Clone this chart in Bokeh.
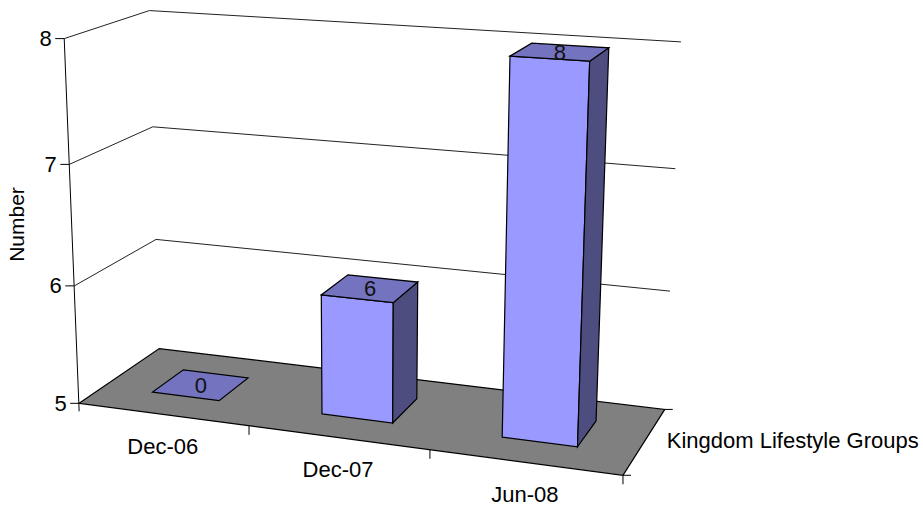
import numpy as np
from bokeh.plotting import figure
from bokeh.core.properties import value
from bokeh.embed import file_html
from bokeh.resources import INLINE

categories = ["Dec-06", "Dec-07", "Jun-08"]
values = [0, 6, 8]
value_ticks = [5, 6, 7, 8]
series_name = "Kingdom Lifestyle Groups"
value_title = "Number"

# Camera calibration of the 3D box: (category pos, depth, value) -> page pixel
box_pts = [(0,0,5),(0,1,5),(3,1,5),(3,0,5),(0,0,8),(0,1,8),(3,1,8),
           (0,0,7),(0,1,7),(3,1,7),(0,0,6),(0,1,6),(3,1,6),(1,0,5),(2,0,5)]
box_px = [(79,403),(159,348),(664,408.5),(623,474.5),(64,38),(149,10),(680,41),
          (69,164),(152,126),(675,169),(73.5,285.5),(155.5,239),(670,291),(248,425.5),(429,449)]

A = []
b = []
for (u, d, v), (x, y) in zip(box_pts, box_px):
    A.append([u, d, v, 1, 0, 0, 0, 0, -x*u, -x*d, -x*v]); b.append(x)
    A.append([0, 0, 0, 0, u, d, v, 1, -y*u, -y*d, -y*v]); b.append(y)
m = np.linalg.lstsq(np.array(A, float), np.array(b, float), rcond=None)[0]
M = np.append(m, 1.0).reshape(3, 4)

def proj(u, d, v):
    r = M @ np.array([u, d, v, 1.0])
    return r[0] / r[2], r[1] / r[2]

W, H = 923, 508
p = figure(width=W, height=H, x_range=(0, W), y_range=(H, 0),
           x_axis_type=None, y_axis_type=None, toolbar_location=None,
           output_backend="svg", min_border=0, outline_line_color=None,
           background_fill_color="white", border_fill_color="white")
p.grid.visible = False

vmin, vmax = value_ticks[0], value_ticks[-1]
nu = len(categories)
FONT = value("Liberation Sans")
FS = "22px"

def face(pts, fill, line="black"):
    xy = [proj(*q) for q in pts]
    p.patch([a for a, _ in xy], [c for _, c in xy], fill_color=fill,
            line_color=line, line_width=1.2, line_join="miter")

def seg(a, b, color="black", w=1.0):
    p.line([a[0], b[0]], [a[1], b[1]], line_color=color, line_width=w)

# gridlines on side and back wall
for t in value_ticks[1:]:
    xy = [proj(0, 0, t), proj(0, 1, t), proj(nu, 1, t)]
    p.line([q[0] for q in xy], [q[1] for q in xy], line_color="#222222", line_width=1.0)

# floor
face([(0,0,vmin),(0,1,vmin),(nu,1,vmin),(nu,0,vmin)], "#808080")

# value axis line and ticks
a0 = proj(0, 0, vmax); a1 = proj(0, 0, vmin)
seg(a0, (a1[0], a1[1] + 8))
for t in value_ticks:
    q = proj(0, 0, t)
    seg((q[0] - 9, q[1]), q)
    p.text([q[0] - 12.5], [q[1]], text=[str(t)], text_font=FONT, text_font_size=FS,
           text_align="right", text_baseline="middle", text_color="black")

# category ticks
for i in range(1, nu + 1):
    q = proj(i, 0, vmin)
    seg(q, (q[0], q[1] + 9))
# depth-axis ticks
for d in (0, 1):
    q = proj(nu, d, vmin)
    seg(q, (q[0] + 8, q[1]))

# bars
offset, half, d0, d1 = 0.495, 0.20, 0.30, 0.70
FRONT, TOP, SIDE = "#9999FF", "#7373BF", "#4D4D80"
for i, val in enumerate(values):
    c = i + offset
    l, r = c - half, c + half
    v = max(val, vmin)
    if v > vmin:
        face([(l,d0,vmin),(r,d0,vmin),(r,d0,v),(l,d0,v)], FRONT)
        face([(r,d0,vmin),(r,d1,vmin),(r,d1,v),(r,d0,v)], SIDE)
    face([(l,d0,v),(r,d0,v),(r,d1,v),(l,d1,v)], TOP)
    q = proj(c, (d0 + d1) / 2, v)
    p.text([q[0]], [q[1] + 0.5], text=[str(val)], text_font=FONT, text_font_size=FS,
           text_align="center", text_baseline="middle", text_color="#111111")

# category labels
for i, name in enumerate(categories):
    q = proj(i + 0.5, 0, vmin)
    p.text([q[0]], [q[1] + 32], text=[name], text_font=FONT, text_font_size=FS,
           text_align="center", text_baseline="middle", text_color="black")

# series label
q = proj(nu, 0.5, vmin)
p.text([q[0] + 22], [q[1]], text=[series_name], text_font=FONT, text_font_size=FS,
       text_align="left", text_baseline="middle", text_color="black")

# value-axis title
p.text([16], [224], text=[value_title], text_font=FONT, text_font_size="21px",
       text_align="center", text_baseline="middle", angle=np.pi / 2, text_color="black")

open("out.html", "w").write(file_html(p, INLINE))
